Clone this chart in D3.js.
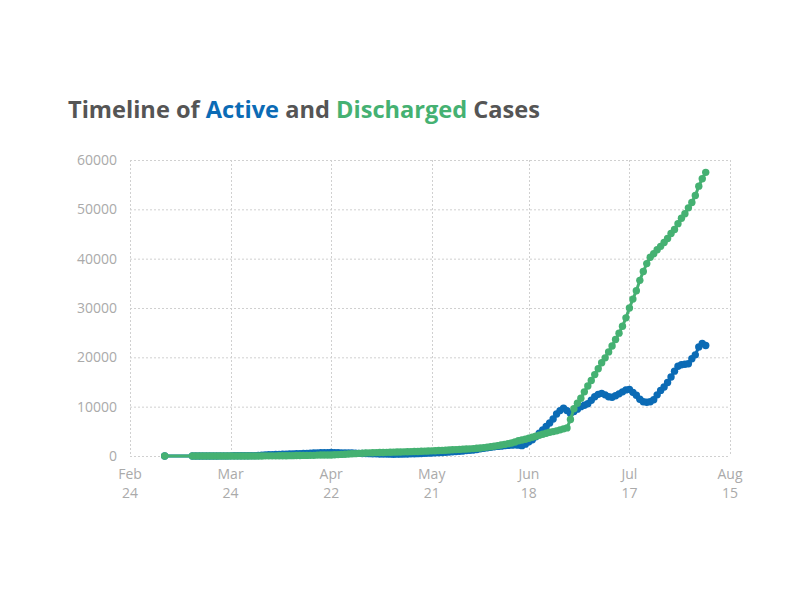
<!DOCTYPE html>
<html lang="en">
<head>
    <meta charset="UTF-8">
    <title>Timeline of Active and Discharged Cases</title>
    <script src="https://cdnjs.cloudflare.com/ajax/libs/d3/7.8.5/d3.min.js"></script>
    <style>
        body { margin: 0; background: #fff; }
        svg text { font-family: "Open Sans", "Noto Sans", sans-serif; }
    </style>
</head>
<body>
    <div id="chart"></div>

    <script>
        // first reported day, then daily rows start again from dailyStart
        var firstDay = "2020-03-05";
        var dailyStart = "2020-03-13";

        // active cases (lone first day, then Mar 13 .. Aug 8)
        var activeFirst = [1];
        var activeMar = [1, 2, 3, 4, 5, 6, 12, 15, 18, 20, 25, 33, 38, 42, 52, 57, 64, 68, 75];
        var activeApr = [115, 140, 190, 240, 285, 300, 310, 360, 380, 400, 430, 460, 490, 520, 540,
                         560, 600, 640, 655, 650, 660, 700, 690, 660, 640, 620, 610, 600, 560, 540];
        var activeMay = [520, 500, 480, 470, 440, 420, 400, 390, 380, 360, 370, 380, 400, 420, 440, 460,
                         480, 510, 540, 580, 610, 640, 680, 720, 760, 800, 840, 900, 960, 1020, 1100];
        var activeJun = [1150, 1200, 1300, 1450, 1550, 1650, 1750, 1850, 1950, 2000, 2100, 2150, 2200, 2250, 2200,
                         2100, 2400, 2900, 3300, 3900, 4600, 5300, 6000, 6700, 7500, 8500, 9200, 9700, 9200, 8600];
        var activeJul = [9000, 9500, 10000, 10300, 10600, 11300, 12000, 12500, 12700, 12400, 12000, 11900, 12200,
                         12600, 13000, 13400, 13500, 12900, 12300, 11500, 11000, 10900, 11000, 11400, 12400, 13300,
                         14000, 14900, 16000, 17200, 18200];
        var activeAug = [18500, 18600, 18700, 19700, 20500, 22100, 22800, 22400];

        // discharged cases, same days
        var dischargedFirst = [0];
        var dischargedMar = [0, 0, 0, 0, 0, 0, 1, 1, 1, 1, 1, 1, 1, 1, 1, 1, 1, 1, 1];
        var dischargedApr = [13, 14, 32, 33, 35, 35, 45, 50, 60, 68, 68, 100, 110, 120, 120,
                             128, 130, 186, 190, 190, 194, 194, 253, 280, 321, 367, 409, 442, 474, 533];
        var dischargedMay = [570, 600, 640, 660, 690, 700, 720, 740, 760, 780, 800, 820, 840, 860, 880, 900,
                             920, 950, 980, 1010, 1040, 1070, 1100, 1140, 1180, 1220, 1260, 1300, 1340, 1390, 1430];
        var dischargedJun = [1450, 1500, 1560, 1620, 1700, 1800, 1900, 2000, 2100, 2220, 2350, 2500, 2650, 2850, 3100,
                             3250, 3400, 3600, 3800, 4000, 4200, 4400, 4600, 4800, 4950, 5100, 5300, 5500, 5700, 7400];
        var dischargedJul = [9600, 10700, 11700, 13000, 14200, 15300, 16500, 17700, 18900, 19900, 21100, 22300,
                             23600, 24900, 26300, 28000, 30000, 31800, 33500, 35600, 37400, 39000, 40300, 41000,
                             41800, 42500, 43300, 44100, 45100, 45900, 47100];
        var dischargedAug = [48200, 49100, 50300, 51400, 52800, 54700, 56200, 57500];

        var xDomain = ["2020-02-24", "2020-08-15"];
        var xTicks = ["2020-02-24", "2020-03-24", "2020-04-22", "2020-05-21", "2020-06-18", "2020-07-17", "2020-08-15"];
        var yTicks = [0, 10000, 20000, 30000, 40000, 50000, 60000];

        var colors = { active: "#0b6bb5", discharged: "#45b172", title: "#555555", axis: "#aaaaaa" };

        var parse = d3.timeParse("%Y-%m-%d");

        var active = activeFirst.concat(activeMar, activeApr, activeMay, activeJun, activeJul, activeAug);
        var discharged = dischargedFirst.concat(dischargedMar, dischargedApr, dischargedMay, dischargedJun, dischargedJul, dischargedAug);

        var start = parse(dailyStart);
        var dates = [parse(firstDay)].concat(
            d3.timeDay.range(start, d3.timeDay.offset(start, active.length - 1)));

        var rowsActive = dates.map(function (d, i) { return { date: d, value: active[i] }; });
        var rowsDischarged = dates.map(function (d, i) { return { date: d, value: discharged[i] }; });

        var width = 800, height = 600;

        var svg = d3.select("#chart").append("svg")
            .attr("width", width)
            .attr("height", height);

        var x = d3.scaleTime()
            .domain(xDomain.map(parse))
            .range([130, 730]);

        var y = d3.scaleLinear()
            .domain([0, 60000])
            .range([456, 160]);

        // title
        var title = svg.append("text")
            .attr("x", 68)
            .attr("y", 118)
            .attr("font-size", 24)
            .attr("font-weight", "bold")
            .attr("fill", colors.title)
            .attr("textLength", 472)
            .attr("lengthAdjust", "spacingAndGlyphs");
        title.append("tspan").text("Timeline of ");
        title.append("tspan").attr("fill", colors.active).text("Active");
        title.append("tspan").text(" and ");
        title.append("tspan").attr("fill", colors.discharged).text("Discharged");
        title.append("tspan").text(" Cases");

        // grid
        var grid = svg.append("g")
            .attr("stroke", "#d0d0d0")
            .attr("stroke-width", 1)
            .attr("stroke-dasharray", "2,2");

        grid.selectAll(".hgrid")
            .data(yTicks)
            .enter().append("line")
            .attr("class", "hgrid")
            .attr("x1", x.range()[0])
            .attr("x2", x.range()[1])
            .attr("y1", function (d) { return y(d) + 0.5; })
            .attr("y2", function (d) { return y(d) + 0.5; });

        grid.selectAll(".vgrid")
            .data(xTicks.map(parse))
            .enter().append("line")
            .attr("class", "vgrid")
            .attr("x1", function (d) { return Math.round(x(d)) + 0.5; })
            .attr("x2", function (d) { return Math.round(x(d)) + 0.5; })
            .attr("y1", y.range()[1])
            .attr("y2", y.range()[0]);

        // y axis labels
        svg.append("g").selectAll("text")
            .data(yTicks)
            .enter().append("text")
            .attr("x", 117)
            .attr("y", function (d) { return y(d); })
            .attr("dy", "0.35em")
            .attr("text-anchor", "end")
            .attr("font-size", 14)
            .attr("fill", colors.axis)
            .text(function (d) { return d; });

        // x axis labels, month over day
        var xl = svg.append("g").selectAll("text")
            .data(xTicks.map(parse))
            .enter().append("text")
            .attr("text-anchor", "middle")
            .attr("font-size", 14)
            .attr("fill", colors.axis);
        xl.append("tspan")
            .attr("x", function (d) { return x(d); })
            .attr("y", 479)
            .text(d3.timeFormat("%b"));
        xl.append("tspan")
            .attr("x", function (d) { return x(d); })
            .attr("y", 498)
            .text(function (d) { return +d3.timeFormat("%d")(d); });

        var line = d3.line()
            .x(function (d) { return x(d.date); })
            .y(function (d) { return y(d.value); });

        function drawSeries(rows, color) {
            var g = svg.append("g");
            g.append("path")
                .datum(rows)
                .attr("fill", "none")
                .attr("stroke", color)
                .attr("stroke-width", 3)
                .attr("stroke-linejoin", "round")
                .attr("d", line);
            g.selectAll("circle")
                .data(rows)
                .enter().append("circle")
                .attr("cx", function (d) { return x(d.date); })
                .attr("cy", function (d) { return y(d.value); })
                .attr("r", 3.7)
                .attr("fill", color);
        }

        drawSeries(rowsActive, colors.active);
        drawSeries(rowsDischarged, colors.discharged);
    </script>
</body>
</html>
